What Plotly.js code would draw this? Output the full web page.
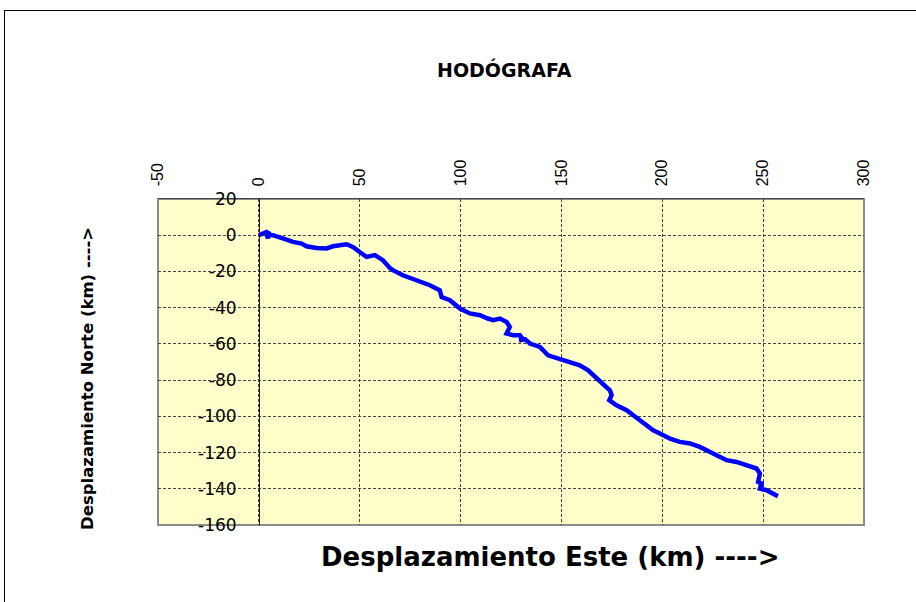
<!DOCTYPE html>
<html>
<head>
<meta charset="utf-8">
<script src="https://cdn.plot.ly/plotly-3.0.1.min.js"></script>
<style>
  html, body { margin: 0; padding: 0; background: #fff; }
  #wrap { position: relative; width: 916px; height: 602px; overflow: hidden; }
  #chart { position: absolute; left: 0; top: 0; width: 916px; height: 602px; }
  #frame { position: absolute; left: 4px; top: 10px; width: 930px; height: 620px;
           border-left: 1.5px solid #000; border-top: 1.5px solid #000; pointer-events: none; }
</style>
</head>
<body>
<div id="wrap">
  <div id="chart"></div>
  <div id="frame"></div>
</div>
<script>
// Hodograph: eastward displacement (km) and northward displacement (km)
const esteKm = [0, 2, 3.8, 5, 4.5, 4.2, 5.5, 6.9, 11.9, 16.9, 21.2, 23.6, 28.6, 33.6, 36.7, 40.2, 43.5, 46.6,
  50.1, 53.4, 57.5, 61.5, 65, 66.4, 71.4, 78.2, 84.8, 89.7, 90.6, 94.7, 99.7, 104.6, 109.6, 113.5,
  116.2, 119.5, 122.8, 124.4, 122.8, 126.1, 129.4, 131.0, 129.0, 131.9, 134.4, 139.3, 143.4, 149.2,
  154.2, 159.1, 163.1, 165.7, 170.7, 174, 174.9, 173.7, 177.3, 182.3, 188.9, 195.5, 198.8,
  203.8, 208.7, 213.7, 218.6, 223.6, 229.4, 231.9, 236.8, 241.8, 246.7, 248.4, 247.5, 249.2,
  248.4, 251.7, 256.7, 257.3];
const norteKm = [0, 1.2, 1.8, 1.0, -1.7, -0.8, 0.3, 0, -1.8, -3.7, -4.6, -6.1, -7.0, -7.3, -6.1, -5.5, -5.0, -6.5,
  -9.2, -12, -11, -13.8, -18.2, -19.3, -22.1, -24.8, -27.6, -30.4, -34.1, -35.9, -40.5, -43.2, -44.2, -46,
  -46.9, -46, -47.9, -50.6, -54.3, -55.2, -55.2, -57.6, -58.2, -57.4, -59.8, -61.7, -66.3, -68.1,
  -70, -71.8, -74.5, -77.3, -82.8, -85.6, -88.3, -91.1, -93.9, -96.6, -102.2, -107.7, -109.5,
  -112.3, -114.1, -115, -116.9, -119.7, -122.4, -124.2, -125.2, -127, -128.8, -131.6, -136.2, -137.1,
  -139.9, -140.8, -143.6, -144.1];

const xTicks = [-50, 0, 50, 100, 150, 200, 250, 300];
const yTicks = [20, 0, -20, -40, -60, -80, -100, -120, -140, -160];

const chartTitle = 'HODÓGRAFA';
const xTitle = 'Desplazamiento Este (km) ---->';
const yTitle = 'Desplazamiento Norte (km) ---->';

const FONT = 'Liberation Sans, Arial, sans-serif';
const WIDE = 'DejaVu Sans, Verdana, sans-serif';

const trace = {
  x: esteKm, y: norteKm, type: 'scatter', mode: 'lines',
  line: { color: '#0000FF', width: 4.5, shape: 'linear' },
  hoverinfo: 'x+y', showlegend: false
};

const layout = {
  width: 916, height: 602,
  margin: { l: 158, r: 52, t: 199, b: 77, pad: 0 },
  paper_bgcolor: '#ffffff',
  plot_bgcolor: '#FFFFCC',
  showlegend: false,
  xaxis: {
    range: [-50, 300], side: 'top', tickmode: 'array', tickvals: xTicks,
    ticktext: xTicks.map(String), tickangle: -90,
    tickfont: { family: FONT, size: 16, color: '#000' },
    showline: true, linecolor: '#444', linewidth: 1.5, mirror: false,
    showgrid: true, gridcolor: '#444', gridwidth: 1, griddash: '3px,2px',
    zeroline: false, ticks: '', ticklabelstandoff: 8, fixedrange: true
  },
  yaxis: {
    range: [-160, 20], tickmode: 'array', tickvals: yTicks,
    ticktext: yTicks.map(String),
    tickfont: { family: WIDE, size: 17, color: '#000' },
    anchor: 'free', position: 101 / 706,
    showline: true, linecolor: '#222', linewidth: 1,
    showgrid: true, gridcolor: '#444', gridwidth: 1, griddash: '3px,2px',
    zeroline: false, ticks: '', ticklabelstandoff: 19, fixedrange: true
  },
  shapes: [
    { type: 'rect', xref: 'paper', yref: 'paper', x0: 0, x1: 1, y0: 0, y1: 1,
      line: { color: '#8c8c8c', width: 2 }, layer: 'below' }
  ],
  annotations: [
    { text: '<b>' + chartTitle + '</b>', xref: 'paper', yref: 'paper',
      x: (504 - 158) / 706, y: (525 - 69) / 326, xanchor: 'center', yanchor: 'middle',
      showarrow: false, font: { family: WIDE, size: 19, color: '#000' } },
    { text: '<b>' + xTitle + '</b>', xref: 'paper', yref: 'paper',
      x: (550 - 158) / 706, y: (525 - 557) / 326, xanchor: 'center', yanchor: 'middle',
      showarrow: false, font: { family: WIDE, size: 26, color: '#000' } },
    { text: '<b>' + yTitle + '</b>', xref: 'paper', yref: 'paper',
      x: (87 - 158) / 706, y: (525 - 379) / 326, xanchor: 'center', yanchor: 'middle',
      textangle: -90, showarrow: false, font: { family: WIDE, size: 16.5, color: '#000' } }
  ]
};

Plotly.newPlot('chart', [trace], layout, { displayModeBar: false, staticPlot: true });
</script>
</body>
</html>
